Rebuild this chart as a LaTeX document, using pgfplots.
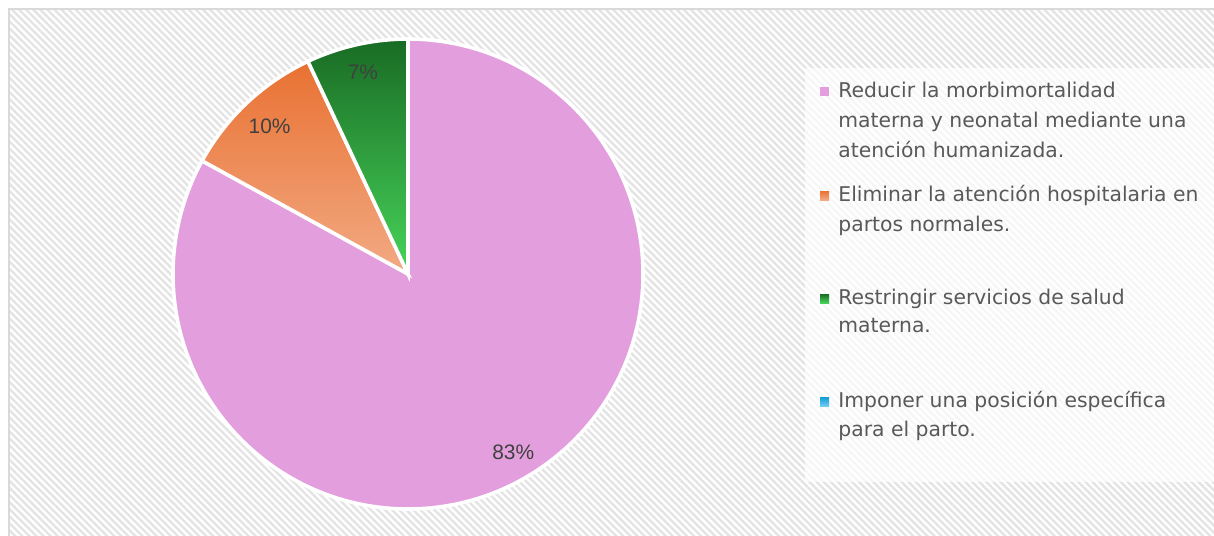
\documentclass[border=0pt]{standalone}
\usepackage{pgfplots}
\pgfplotsset{compat=1.18}
\usepackage{pgfplotstable}
\usepackage{fontspec}
\setmainfont{DejaVu Sans}
\newfontfamily\labelfont{Liberation Sans}
\usetikzlibrary{patterns.meta}

\definecolor{pinkc}{HTML}{E39EDD}
\definecolor{orangeT}{HTML}{E97132}
\definecolor{orangeB}{HTML}{F2AA84}
\definecolor{greenT}{HTML}{196B24}
\definecolor{greenB}{HTML}{47D45A}
\definecolor{blueT}{HTML}{0F9ED5}
\definecolor{blueB}{HTML}{6FCBF3}
\definecolor{patgray}{HTML}{E4E4E4}
\definecolor{framegray}{HTML}{D9D9D9}
\definecolor{labelgray}{HTML}{404040}
\definecolor{textgray}{HTML}{595959}

% porcentajes de cada respuesta
\pgfplotstableread{
val
83
10
7
0
}\piedata
\pgfplotstablegetelem{0}{val}\of\piedata\let\vA\pgfplotsretval
\pgfplotstablegetelem{1}{val}\of\piedata\let\vB\pgfplotsretval
\pgfplotstablegetelem{2}{val}\of\piedata\let\vC\pgfplotsretval
\pgfmathsetmacro\aA{90}
\pgfmathsetmacro\aB{\aA-3.6*\vA}
\pgfmathsetmacro\aC{\aB-3.6*\vB}
\pgfmathsetmacro\aD{\aC-3.6*\vC}
\pgfmathsetmacro\mA{(\aA+\aB)/2}
\pgfmathsetmacro\mB{(\aB+\aC)/2}
\pgfmathsetmacro\mC{(\aC+\aD)/2}

\begin{document}
\begin{tikzpicture}[x=1bp,y=1bp]
\useasboundingbox (0,0) rectangle (607,267.5);
\clip (0,0) rectangle (607,267.5);
\fill[white] (0,0) rectangle (607,267.5);
\fill[pattern={Lines[angle=-45,distance=2.5bp,line width=1.2bp]}, pattern color=patgray] (4.5,-5) rectangle (612,263);
\draw[framegray, line width=1bp] (4.5,-5) -- (4.5,263) -- (612,263);
\fill[white, opacity=0.7] (402.5,26.5) rectangle (612,233.5);

\begin{axis}[
    at={(204bp,130.5bp)}, anchor=center,
    x=117.5bp, y=117.5bp,
    xmin=-1, xmax=1, ymin=-1, ymax=1,
    hide axis, clip=false,
]
\path[fill=pinkc, draw=white, line width=1.8bp] (axis cs:0,0) -- (axis cs:{cos(\aA)},{sin(\aA)})
    arc[start angle=\aA, end angle=\aB, radius=117.5bp] -- cycle;
\shadedraw[top color=orangeT, bottom color=orangeB, draw=white, line width=1.8bp] (axis cs:0,0) -- (axis cs:{cos(\aB)},{sin(\aB)})
    arc[start angle=\aB, end angle=\aC, radius=117.5bp] -- cycle;
\shadedraw[top color=greenT, bottom color=greenB, draw=white, line width=1.8bp] (axis cs:0,0) -- (axis cs:{cos(\aC)},{sin(\aC)})
    arc[start angle=\aC, end angle=\aD, radius=117.5bp] -- cycle;
\tikzset{pct/.style={font=\labelfont\fontsize{10.5}{12}\selectfont, text=labelgray}}
\node[pct] at (axis cs:{0.88*cos(\mA)},{0.88*sin(\mA)}) {\vA\%};
\node[pct] at (axis cs:{0.86*cos(\mB)},{0.86*sin(\mB)}) {\vB\%};
\node[pct] at (axis cs:{0.88*cos(\mC)},{0.88*sin(\mC)}) {\vC\%};
\end{axis}

% leyenda
\tikzset{lt/.style={anchor=base west, inner sep=0pt, text=textgray, font=\fontsize{10.2}{12}\selectfont}}
\fill[pinkc] (410,219.5) rectangle (414.5,224);
\node[lt] at (419,219) {Reducir la morbimortalidad};
\node[lt] at (419,204) {materna y neonatal mediante una};
\node[lt] at (419,189) {atención humanizada.};
\shade[top color=orangeT, bottom color=orangeB] (410,167.5) rectangle (414.5,172);
\node[lt] at (419,167) {Eliminar la atención hospitalaria en};
\node[lt] at (419,152) {partos normales.};
\shade[top color=greenT, bottom color=greenB] (410,116) rectangle (414.5,120.5);
\node[lt] at (419,115.5) {Restringir servicios de salud};
\node[lt] at (419,101.5) {materna.};
\shade[top color=blueT, bottom color=blueB] (410,64.5) rectangle (414.5,69);
\node[lt] at (419,64) {Imponer una posición específica};
\node[lt] at (419,49.5) {para el parto.};
\end{tikzpicture}
\end{document}
